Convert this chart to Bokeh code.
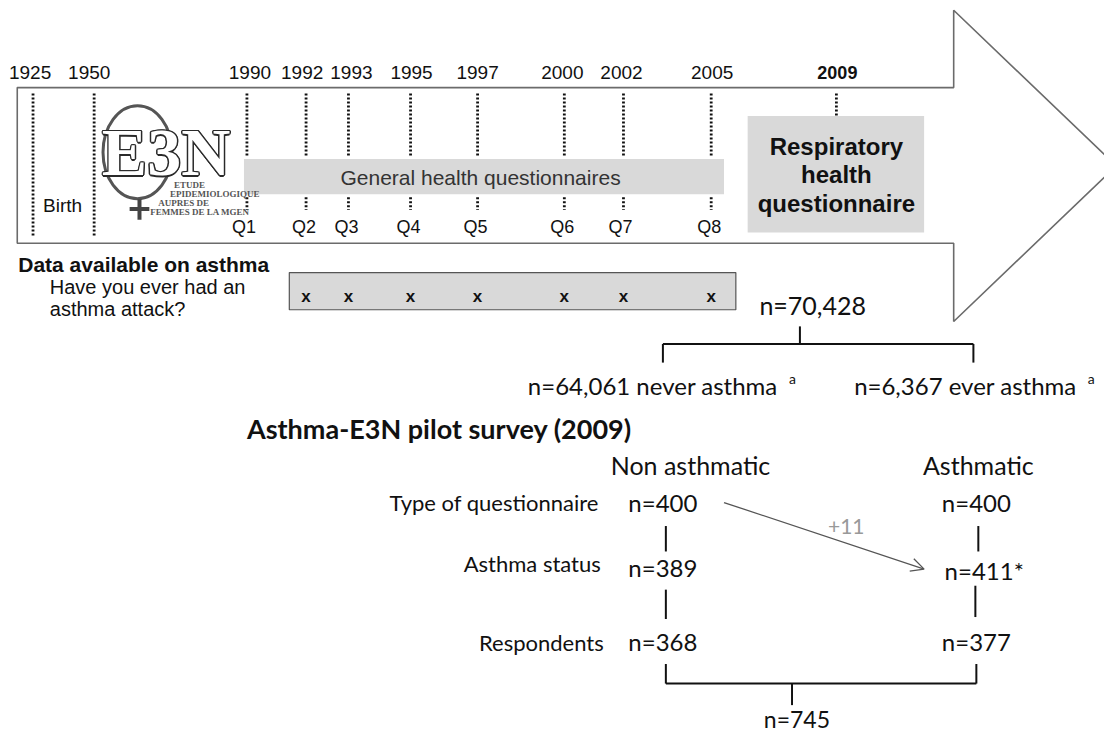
from bokeh.plotting import figure
from bokeh.models import Range1d, ColumnDataSource, Arrow, OpenHead
from bokeh.embed import file_html
from bokeh.resources import INLINE
from bokeh.core.properties import value

# ---------------- DATA ----------------
years = ["1925", "1950", "1990", "1992", "1993", "1995", "1997", "2000", "2002", "2005", "2009"]
questionnaires = ["Q1", "Q2", "Q3", "Q4", "Q5", "Q6", "Q7", "Q8"]
asthma_available = ["x", "x", "x", "x", "x", "x", "x"]          # Q2..Q8
general_label = "General health questionnaires"
respiratory_label = ["Respiratory", "health", "questionnaire"]
cohort_n = "70,428"
never_asthma_n = "64,061"
ever_asthma_n = "6,367"
groups = ["Non asthmatic", "Asthmatic"]
stages = ["Type of questionnaire", "Asthma status", "Respondents"]
non_asthmatic_n = ["400", "389", "368"]
asthmatic_n = ["400", "411*", "377"]
reclassified = "+11"
total_n = "745"

# ---------------- LAYOUT (reference pixel space) ----------------
year_line_x = [33, 95, 250, 310, 353, 416, 484, 572, 632, 721, 848]
year_label_x = [30, 90, 253, 306, 356, 417, 484, 570, 630, 722, 849]
q_line_x = year_line_x[2:10]
q_label_x = [247, 308, 351, 414, 482, 570, 629, 719]

SANS = value("Liberation Sans")
CAL = value("Lato")
INK = "#111111"

p = figure(width=1104, height=733, x_range=Range1d(0, 1120), y_range=Range1d(749, 0),
           output_backend="svg", toolbar_location=None, min_border=0)
p.axis.visible = False
p.grid.visible = False
p.outline_line_color = None
p.background_fill_color = "white"


def txt(xs, ys, texts, size, font=SANS, color=INK, bold=False, align="center", alpha=1.0):
    src = ColumnDataSource(dict(x=xs, y=ys, t=texts))
    p.text("x", "y", "t", source=src, text_font=font, text_font_size=f"{size}px",
           text_color=color, text_font_style="bold" if bold else "normal",
           text_align=align, text_baseline="middle", text_alpha=alpha)


# big arrow
p.patch([17, 967, 967, 1132, 967, 967, 17], [89, 89, 10, 169, 328, 248, 248],
        fill_color="white", line_color="#6b6b6b", line_width=1.6)

# grey bars
p.quad(left=[247], right=[734], top=[162], bottom=[198], fill_color="#d9d9d9", line_color=None)
p.quad(left=[758], right=[937], top=[118], bottom=[237], fill_color="#d9d9d9", line_color=None)
p.quad(left=[293], right=[746], top=[278], bottom=[316], fill_color="#d9d9d9",
       line_color="#555555", line_width=1.2)

# dotted timeline lines
dot = dict(line_color=INK, line_width=2.8, line_dash="2 2")
p.multi_line([[x, x] for x in year_line_x[:2]], [[95, 241]] * 2, **dot)
p.multi_line([[x, x] for x in q_line_x], [[95, 160]] * len(q_line_x), **dot)
p.multi_line([[x, x] for x in q_line_x], [[201, 214]] * len(q_line_x), **dot)
p.multi_line([[year_line_x[-1]] * 2], [[95, 118]], **dot)

# year labels
txt(year_label_x[:-1], [74] * 10, years[:-1], 19)
txt(year_label_x[-1:], [74], years[-1:], 18, bold=True)
txt(q_label_x, [231] * 8, questionnaires, 18)
txt([63], [209], ["Birth"], 19)
txt([487], [181], [general_label], 21, color="#333333")
txt([848] * 3, [149, 178, 207], respiratory_label, 24, bold=True)

# E3N logo
p.ellipse(x=[139], y=[155], width=[70], height=[95], fill_color=None,
          line_color="#555555", line_width=3)
p.segment(x0=[141], y0=[203], x1=[141], y1=[224], line_color="#444444", line_width=4)
p.segment(x0=[131], y0=[213], x1=[151], y1=[213], line_color="#444444", line_width=4)
logo_font = value("Liberation Serif")
for dx, dy in [(-1.5, 0), (1.5, 0), (0, -1.5), (0, 1.5), (-1, -1), (1, 1), (-1, 1), (1, -1)]:
    txt([168 + dx], [155 + dy], ["E3N"], 68, font=logo_font, color="#2a2a2a", bold=True)
txt([168], [155], ["E3N"], 68, font=logo_font, color="white", bold=True)
txt([176, 172, 160, 152], [189, 198, 207, 216],
    ["ETUDE", "EPIDEMIOLOGIQUE", "AUPRES DE", "FEMMES DE LA MGEN"], 9,
    font=logo_font, color="#555555", bold=True, align="left")

# asthma data availability
txt([18], [270], ["Data available on asthma"], 21, bold=True, align="left")
txt([50, 50], [293, 315], ["Have you ever had an", "asthma attack?"], 20, align="left")
txt(q_line_x[1:], [302] * 7, asthma_available, 17, bold=True)

# cohort split
line = dict(line_color=INK, line_width=2)
txt([824], [311], ["n=" + cohort_n], 25, font=CAL)
p.multi_line([[811, 811], [672, 987], [672, 672], [987, 987]],
             [[333, 351], [351, 351], [351, 370], [351, 370]], **line)
txt([535], [393], ["n=" + never_asthma_n + " never asthma"], 24, font=CAL, align="left")
txt([866], [393], ["n=" + ever_asthma_n + " ever asthma"], 24, font=CAL, align="left")
txt([800, 1103], [386, 386], ["a", "a"], 14, font=CAL, align="left")

# pilot survey
txt([250], [437], ["Asthma-E3N pilot survey (2009)"], 27, font=CAL, bold=True, align="left")
txt([700, 992], [475, 475], groups, 25, font=CAL)
txt([607, 609, 612], [513, 575, 656], stages, 22, font=CAL, align="right")
txt([672, 672, 672], [513, 579, 655], ["n=" + v for v in non_asthmatic_n], 24, font=CAL)
txt([990, 998, 990], [513, 582, 655], ["n=" + v for v in asthmatic_n], 24, font=CAL)

p.multi_line([[675, 675], [675, 675], [992, 992], [989, 989]],
             [[537, 563], [602, 632], [537, 563], [598, 630]], **line)
p.multi_line([[675, 675], [990, 990], [675, 990], [803, 803]],
             [[678, 698], [678, 698], [698, 698], [698, 720]], **line)
txt([808], [734], ["n=" + total_n], 23, font=CAL)

p.add_layout(Arrow(end=OpenHead(size=13, line_color="#555555", line_width=1.3),
                   x_start=734, y_start=513, x_end=937, y_end=581,
                   line_color="#555555", line_width=1.3))
txt([858], [537], [reclassified], 21, font=CAL, color="#999999")

open("out.html", "w").write(file_html(p, INLINE))
